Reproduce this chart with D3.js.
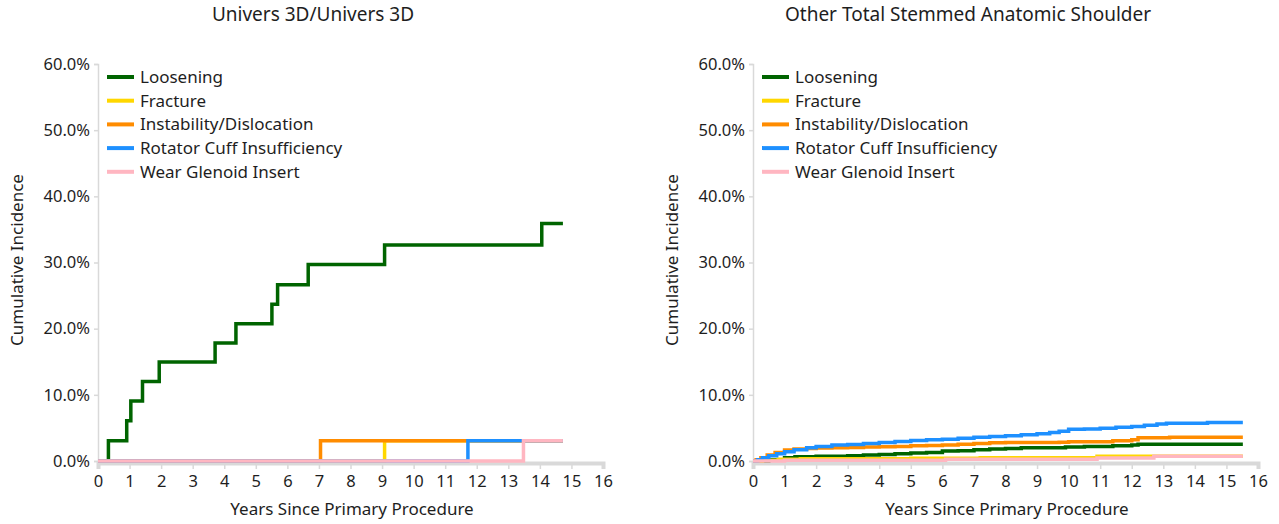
<!DOCTYPE html>
<html>
<head>
<meta charset="utf-8">
<script src="https://cdn.jsdelivr.net/npm/d3@7"></script>
<style>
  body { margin: 0; background: #fff; }
  text { font-family: "Segoe UI", "Noto Sans", sans-serif; fill: #1e1e1e; }
</style>
</head>
<body>
<div id="viz"></div>
<script>
// legend / series names, shared by both panels
var seriesNames = ["Loosening", "Fracture", "Instability/Dislocation",
                   "Rotator Cuff Insufficiency", "Wear Glenoid Insert"];
var seriesColors = ["#006400", "#ffd700", "#ff8c00", "#1e90ff", "#ffb6c1"];

var xTicks = [0, 1, 2, 3, 4, 5, 6, 7, 8, 9, 10, 11, 12, 13, 14, 15, 16];
var yTicks = [0, 0.1, 0.2, 0.3, 0.4, 0.5, 0.6];

// left panel: Univers 3D/Univers 3D  [years, cumulative %]
var leftLoosening = [[0, 0], [0.33, 3.05], [0.91, 6.1], [1.04, 9.05], [1.41, 12.0],
    [1.94, 14.95], [3.71, 17.85], [4.37, 20.75], [5.51, 23.7], [5.69, 26.65],
    [6.66, 29.7], [9.08, 32.65], [14.06, 35.9], [14.73, 35.9]];
var leftFracture = [[0, 0], [9.08, 3.05], [14.73, 3.05]];
var leftInstability = [[0, 0], [7.05, 3.05], [14.73, 3.05]];
var leftRotator = [[0, 0], [11.72, 3.05], [14.73, 3.05]];
var leftWear = [[0, 0], [13.48, 3.05], [14.73, 3.05]];

// right panel: Other Total Stemmed Anatomic Shoulder
var rightLoosening = [[0, 0], [0.5, 0.2], [1.0, 0.5], [1.33, 0.65], [2.0, 0.7],
    [3.0, 0.8], [3.5, 0.9], [4.0, 1.0], [4.5, 1.1], [5.0, 1.2], [5.5, 1.3],
    [6.0, 1.5], [6.5, 1.55], [7.0, 1.7], [7.5, 1.8], [8.0, 1.9], [8.5, 2.0],
    [9.9, 2.1], [10.5, 2.2], [11.4, 2.3], [12.0, 2.4], [12.2, 2.55], [15.52, 2.55]];
var rightFracture = [[0, 0], [0.3, 0.1], [0.8, 0.25], [1.5, 0.35], [5.0, 0.4],
    [7.2, 0.5], [10.9, 0.7], [15.52, 0.7]];
var rightInstability = [[0, 0], [0.1, 0.2], [0.25, 0.5], [0.45, 0.9], [0.7, 1.3],
    [1.0, 1.65], [1.3, 1.8], [1.7, 1.9], [2.0, 1.95], [2.5, 2.0], [3.0, 2.05],
    [3.5, 2.1], [4.0, 2.15], [4.5, 2.2], [5.0, 2.3], [5.5, 2.35], [6.0, 2.4],
    [6.5, 2.55], [7.0, 2.65], [7.5, 2.75], [8.0, 2.8], [9.7, 2.85], [10.0, 2.9],
    [11.4, 3.05], [12.0, 3.2], [12.2, 3.5], [13.2, 3.6], [15.52, 3.6]];
var rightRotator = [[0, 0], [0.15, 0.2], [0.3, 0.5], [0.5, 0.8], [0.75, 1.1],
    [1.0, 1.4], [1.3, 1.7], [1.7, 2.0], [2.0, 2.2], [2.5, 2.4], [3.0, 2.5],
    [3.5, 2.65], [4.0, 2.8], [4.5, 2.95], [5.0, 3.1], [5.5, 3.2], [6.0, 3.3],
    [6.5, 3.45], [7.0, 3.6], [7.5, 3.7], [8.0, 3.8], [8.5, 3.95], [9.0, 4.1],
    [9.4, 4.3], [9.7, 4.5], [10.0, 4.8], [10.5, 4.85], [11.0, 4.95], [11.5, 5.1],
    [12.0, 5.2], [12.4, 5.4], [12.8, 5.6], [13.1, 5.7], [14.4, 5.8], [15.52, 5.8]];
var rightWear = [[0, 0], [1.0, 0.1], [6.1, 0.25], [10.9, 0.45], [12.7, 0.7], [15.52, 0.7]];

var W = 1279, H = 524;
var SVG = d3.select("#viz").append("svg")
    .attr("width", W)
    .attr("height", H);

function drawPanel(opts) {
    var g = SVG.append("g");
    var x = d3.scaleLinear().domain([0, 16]).range([opts.left, opts.left + 505]);
    var y = d3.scaleLinear().domain([0, 0.6]).range([461, 64]);

    // title
    g.append("text")
        .attr("x", opts.titleX).attr("y", 21)
        .attr("text-anchor", "middle")
        .style("font-size", "19px")
        .text(opts.title);

    // y axis
    var yAxis = d3.axisLeft(y).tickValues(yTicks).tickSize(4).tickPadding(4)
        .tickFormat(d3.format(".1%"));
    var ya = g.append("g").attr("transform", "translate(" + opts.left + ",0)").call(yAxis);
    ya.select(".domain").attr("stroke", "#d9d9d9").attr("stroke-width", 1.5);
    ya.selectAll(".tick line").attr("stroke", "#d9d9d9").attr("stroke-width", 1.5);
    ya.selectAll(".tick text").style("font-size", "16.5px").attr("fill", "#1e1e1e");

    // x axis
    var xAxis = d3.axisBottom(x).tickValues(xTicks).tickSize(6).tickPadding(6)
        .tickFormat(d3.format("d"));
    var xa = g.append("g").attr("transform", "translate(0,463)").call(xAxis);
    xa.select(".domain").attr("stroke", "#d9d9d9").attr("stroke-width", 4);
    xa.selectAll(".tick line").attr("stroke", "#d9d9d9").attr("stroke-width", 1.5);
    xa.selectAll(".tick text").style("font-size", "16.5px").attr("fill", "#1e1e1e");

    // axis titles
    g.append("text")
        .attr("x", opts.left + 254).attr("y", 515)
        .attr("text-anchor", "middle")
        .style("font-size", "17px")
        .text("Years Since Primary Procedure");
    g.append("text")
        .attr("transform", "translate(" + (opts.left - 75) + ",260) rotate(-90)")
        .attr("text-anchor", "middle")
        .style("font-size", "17px")
        .text("Cumulative Incidence");

    // step lines, drawn in legend order so pink ends on top
    var line = d3.line()
        .x(function(d) { return x(d[0]); })
        .y(function(d) { return y(d[1] / 100); })
        .curve(d3.curveStepAfter);
    opts.series.forEach(function(s, i) {
        g.append("path")
            .attr("d", line(s))
            .attr("fill", "none")
            .attr("stroke", seriesColors[i])
            .attr("stroke-width", 3.5);
    });

    // legend
    var lg = g.append("g").attr("transform", "translate(" + (opts.left + 9) + ",77)");
    seriesNames.forEach(function(name, i) {
        lg.append("line")
            .attr("x1", 0).attr("x2", 27)
            .attr("y1", i * 23.7).attr("y2", i * 23.7)
            .attr("stroke", seriesColors[i])
            .attr("stroke-width", 4);
        lg.append("text")
            .attr("x", 33).attr("y", i * 23.7 + 6)
            .style("font-size", "17px")
            .text(name);
    });
}

drawPanel({
    left: 98, titleX: 313, title: "Univers 3D/Univers 3D",
    series: [leftLoosening, leftFracture, leftInstability, leftRotator, leftWear]
});
drawPanel({
    left: 753, titleX: 968, title: "Other Total Stemmed Anatomic Shoulder",
    series: [rightLoosening, rightFracture, rightInstability, rightRotator, rightWear]
});
</script>
</body>
</html>
